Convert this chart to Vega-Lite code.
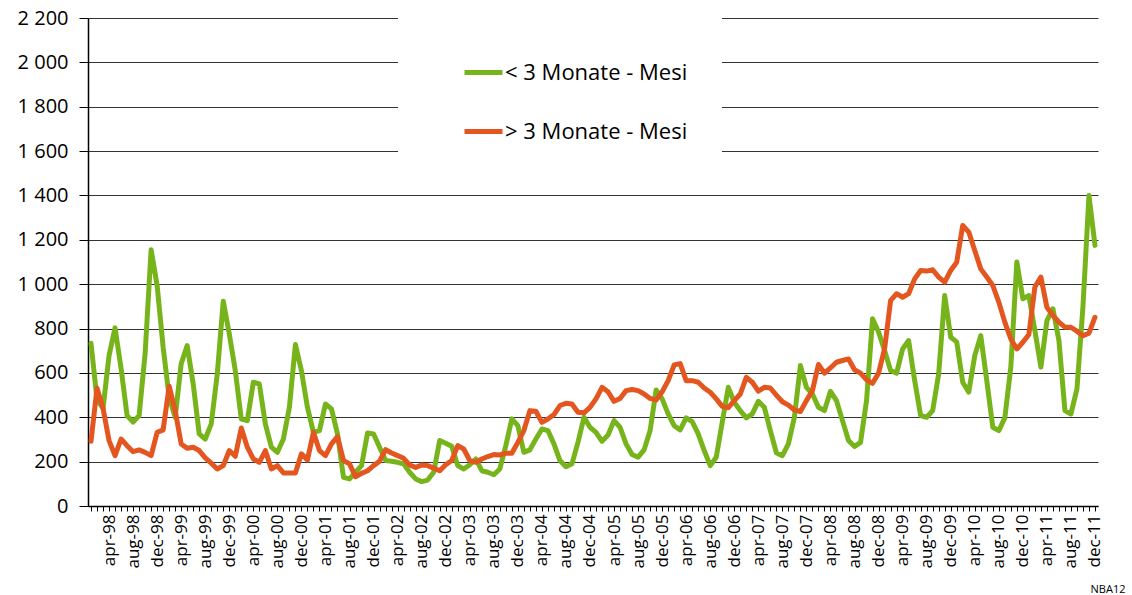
{
  "$schema": "https://vega.github.io/schema/vega-lite/v6.json",
  "width": 1010,
  "height": 488,
  "autosize": {"type": "none"},
  "padding": {"left": 88, "top": 18, "right": 34, "bottom": 89},
  "background": "white",
  "config": {"font": "Open Sans", "view": {"stroke": null}},
  "data": {"values": [
    {"m":"jan-98","a":734,"b":292},{"m":"feb-98","a":480,"b":531},{"m":"mar-98","a":440,"b":440},{"m":"apr-98","a":678,"b":295},
    {"m":"may-98","a":803,"b":227},{"m":"jun-98","a":620,"b":302},{"m":"jul-98","a":408,"b":272},{"m":"aug-98","a":378,"b":245},
    {"m":"sep-98","a":408,"b":253},{"m":"oct-98","a":686,"b":242},{"m":"nov-98","a":1155,"b":227},{"m":"dec-98","a":994,"b":332},
    {"m":"jan-99","a":716,"b":343},{"m":"feb-99","a":490,"b":540},{"m":"mar-99","a":400,"b":430},{"m":"apr-99","a":641,"b":280},
    {"m":"may-99","a":723,"b":260},{"m":"jun-99","a":550,"b":265},{"m":"jul-99","a":325,"b":250},{"m":"aug-99","a":302,"b":217},
    {"m":"sep-99","a":370,"b":193},{"m":"oct-99","a":595,"b":167},{"m":"nov-99","a":923,"b":182},{"m":"dec-99","a":776,"b":250},
    {"m":"jan-00","a":610,"b":224},{"m":"feb-00","a":392,"b":352},{"m":"mar-00","a":385,"b":265},{"m":"apr-00","a":558,"b":212},
    {"m":"may-00","a":550,"b":197},{"m":"jun-00","a":370,"b":250},{"m":"jul-00","a":265,"b":167},{"m":"aug-00","a":242,"b":182},
    {"m":"sep-00","a":302,"b":149},{"m":"oct-00","a":445,"b":149},{"m":"nov-00","a":728,"b":149},{"m":"dec-00","a":610,"b":235},
    {"m":"jan-01","a":445,"b":208},{"m":"feb-01","a":332,"b":332},{"m":"mar-01","a":340,"b":250},{"m":"apr-01","a":460,"b":227},
    {"m":"may-01","a":438,"b":280},{"m":"jun-01","a":325,"b":313},{"m":"jul-01","a":129,"b":205},{"m":"aug-01","a":122,"b":190},
    {"m":"sep-01","a":152,"b":132},{"m":"oct-01","a":182,"b":147},{"m":"nov-01","a":329,"b":159},{"m":"dec-01","a":325,"b":182},
    {"m":"jan-02","a":265,"b":202},{"m":"feb-02","a":205,"b":254},{"m":"mar-02","a":202,"b":239},{"m":"apr-02","a":197,"b":227},
    {"m":"may-02","a":190,"b":215},{"m":"jun-02","a":152,"b":185},{"m":"jul-02","a":122,"b":174},{"m":"aug-02","a":110,"b":185},
    {"m":"sep-02","a":117,"b":182},{"m":"oct-02","a":152,"b":171},{"m":"nov-02","a":295,"b":159},{"m":"dec-02","a":283,"b":186},
    {"m":"jan-03","a":269,"b":205},{"m":"feb-03","a":182,"b":272},{"m":"mar-03","a":167,"b":257},{"m":"apr-03","a":186,"b":205},
    {"m":"may-03","a":212,"b":197},{"m":"jun-03","a":159,"b":212},{"m":"jul-03","a":152,"b":223},{"m":"aug-03","a":141,"b":232},
    {"m":"sep-03","a":167,"b":230},{"m":"oct-03","a":272,"b":238},{"m":"nov-03","a":393,"b":238},{"m":"dec-03","a":362,"b":287},
    {"m":"jan-04","a":242,"b":340},{"m":"feb-04","a":253,"b":430},{"m":"mar-04","a":302,"b":427},{"m":"apr-04","a":347,"b":377},
    {"m":"may-04","a":340,"b":392},{"m":"jun-04","a":280,"b":412},{"m":"jul-04","a":205,"b":453},{"m":"aug-04","a":177,"b":463},
    {"m":"sep-04","a":190,"b":460},{"m":"oct-04","a":287,"b":423},{"m":"nov-04","a":400,"b":420},{"m":"dec-04","a":355,"b":445},
    {"m":"jan-05","a":332,"b":483},{"m":"feb-05","a":292,"b":535},{"m":"mar-05","a":320,"b":515},{"m":"apr-05","a":385,"b":472},
    {"m":"may-05","a":355,"b":485},{"m":"jun-05","a":280,"b":520},{"m":"jul-05","a":232,"b":525},{"m":"aug-05","a":220,"b":520},
    {"m":"sep-05","a":253,"b":505},{"m":"oct-05","a":340,"b":485},{"m":"nov-05","a":523,"b":478},{"m":"dec-05","a":483,"b":515},
    {"m":"jan-06","a":415,"b":565},{"m":"feb-06","a":362,"b":636},{"m":"mar-06","a":343,"b":642},{"m":"apr-06","a":397,"b":565},
    {"m":"may-06","a":380,"b":565},{"m":"jun-06","a":325,"b":558},{"m":"jul-06","a":250,"b":532},{"m":"aug-06","a":182,"b":513},
    {"m":"sep-06","a":220,"b":483},{"m":"oct-06","a":378,"b":449},{"m":"nov-06","a":535,"b":443},{"m":"dec-06","a":468,"b":475},
    {"m":"jan-07","a":430,"b":505},{"m":"feb-07","a":397,"b":580},{"m":"mar-07","a":415,"b":558},{"m":"apr-07","a":472,"b":518},
    {"m":"may-07","a":445,"b":535},{"m":"jun-07","a":340,"b":532},{"m":"jul-07","a":240,"b":500},{"m":"aug-07","a":227,"b":470},
    {"m":"sep-07","a":280,"b":455},{"m":"oct-07","a":400,"b":433},{"m":"nov-07","a":633,"b":426},{"m":"dec-07","a":535,"b":475},
    {"m":"jan-08","a":505,"b":520},{"m":"feb-08","a":445,"b":638},{"m":"mar-08","a":430,"b":599},{"m":"apr-08","a":517,"b":623},
    {"m":"may-08","a":475,"b":648},{"m":"jun-08","a":385,"b":656},{"m":"jul-08","a":295,"b":663},{"m":"aug-08","a":268,"b":614},
    {"m":"sep-08","a":287,"b":599},{"m":"oct-08","a":475,"b":569},{"m":"nov-08","a":844,"b":553},{"m":"dec-08","a":784,"b":599},
    {"m":"jan-09","a":701,"b":708},{"m":"feb-09","a":611,"b":926},{"m":"mar-09","a":599,"b":957},{"m":"apr-09","a":708,"b":941},
    {"m":"may-09","a":746,"b":957},{"m":"jun-09","a":566,"b":1024},{"m":"jul-09","a":408,"b":1062},{"m":"aug-09","a":400,"b":1059},
    {"m":"sep-09","a":430,"b":1065},{"m":"oct-09","a":596,"b":1032},{"m":"nov-09","a":949,"b":1009},{"m":"dec-09","a":761,"b":1062},
    {"m":"jan-10","a":740,"b":1099},{"m":"feb-10","a":558,"b":1265},{"m":"mar-10","a":513,"b":1235},{"m":"apr-10","a":678,"b":1152},
    {"m":"may-10","a":768,"b":1069},{"m":"jun-10","a":565,"b":1032},{"m":"jul-10","a":355,"b":994},{"m":"aug-10","a":340,"b":919},
    {"m":"sep-10","a":397,"b":829},{"m":"oct-10","a":626,"b":753},{"m":"nov-10","a":1100,"b":708},{"m":"dec-10","a":934,"b":738},
    {"m":"jan-11","a":949,"b":773},{"m":"feb-11","a":791,"b":987},{"m":"mar-11","a":626,"b":1032},{"m":"apr-11","a":836,"b":896},
    {"m":"may-11","a":889,"b":859},{"m":"jun-11","a":746,"b":829},{"m":"jul-11","a":430,"b":806},{"m":"aug-11","a":415,"b":806},
    {"m":"sep-11","a":528,"b":788},{"m":"oct-11","a":900,"b":768},{"m":"nov-11","a":1400,"b":779},{"m":"dec-11","a":1175,"b":851}
  ]},
  "transform": [{"fold": ["a", "b"], "as": ["s", "v"]}],
  "mark": {"type": "line", "strokeWidth": 5, "strokeJoin": "round", "strokeCap": "round"},
  "encoding": {
    "x": {
      "field": "m", "type": "ordinal", "sort": null,
      "scale": {"type": "point", "padding": 0.5},
      "axis": {
        "title": "NBA12", "titleFontSize": 11, "titleFontWeight": "normal", "titleColor": "black",
        "titleAnchor": "end", "titleAlign": "right", "titleX": 1037, "titleY": 86, "titleBaseline": "alphabetic",
        "labelAngle": -90, "labelAlign": "right", "labelBaseline": "middle", "labelFontSize": 17,
        "labelColor": "black", "labelPadding": 3, "labelOverlap": false,
        "labelExpr": "indexof(['apr','aug','dec'], substring(datum.value, 0, 3)) >= 0 ? datum.value : ''",
        "tickSize": 5, "tickColor": "black", "domainColor": "black", "domainWidth": 1.5, "grid": false
      }
    },
    "y": {
      "field": "v", "type": "quantitative",
      "scale": {"domain": [0, 2200], "nice": false},
      "axis": {
        "title": null,
        "values": [0, 200, 400, 600, 800, 1000, 1200, 1400, 1600, 1800, 2000, 2200],
        "labelExpr": "replace(format(datum.value, ','), ',', ' ')",
        "labelFontSize": 20, "labelColor": "black", "labelPadding": 11,
        "tickSize": 9, "tickColor": "black", "domainColor": "black", "domainWidth": 1.5,
        "grid": true, "gridColor": "#333333", "gridWidth": 1
      }
    },
    "color": {
      "field": "s", "type": "nominal",
      "scale": {"domain": ["a", "b"], "range": ["#77B41C", "#E3561F"]},
      "legend": {
        "title": null, "orient": "none", "legendX": 310, "legendY": -1, "direction": "vertical",
        "symbolType": "stroke", "symbolSize": 1444, "symbolStrokeWidth": 5, "symbolOffset": 30,
        "labelFontSize": 22, "labelColor": "black", "labelOffset": 0, "labelLimit": 400,
        "rowPadding": 26, "fillColor": "white", "padding": 34,
        "labelExpr": "datum.value == 'a' ? '< 3 Monate - Mesi     ' : '> 3 Monate - Mesi     '"
      }
    }
  }
}
